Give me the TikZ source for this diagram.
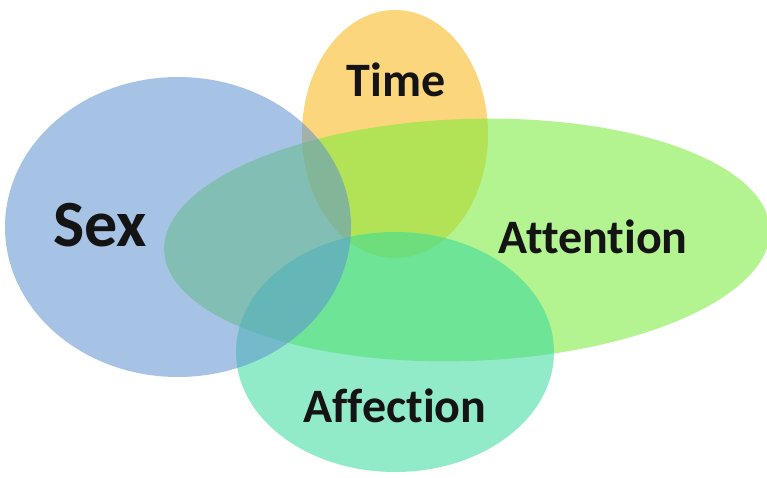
\documentclass[tikz,border=0pt]{standalone}
\usepackage{fontspec}
\setmainfont{Carlito}[Ligatures=NoCommon]

\definecolor{sexblue}{RGB}{93,147,209}
\definecolor{timegold}{RGB}{251,182,18}
\definecolor{attngreen}{RGB}{118,236,55}
\definecolor{affmint}{RGB}{55,218,155}

\tikzset{
  blob/.style={fill opacity=0.55},
  word/.style={anchor=base, text=black!92, font=\bfseries\fontsize{48}{52}\selectfont},
  bigword/.style={word, font=\bfseries\fontsize{66}{70}\selectfont},
}

\begin{document}
\begin{tikzpicture}[x=1pt, y=-1pt]
	%%%%% START %%%%%
	\useasboundingbox (0,0) rectangle (767,478);
	\fill[white] (0,0) rectangle (767,478);
	
	% the four overlapping blobs
	\fill[blob, timegold] (395,134) ellipse [x radius=93, y radius=124];
	\fill[blob, attngreen, rotate around={2:(467,240)}] (467,240) ellipse [x radius=303, y radius=121];
	\fill[blob, affmint] (395,352) ellipse [x radius=159, y radius=120];
	\fill[blob, sexblue] (178,227) ellipse [x radius=173, y radius=150];
	
	% labels
	\node[bigword] (sex) at (100,246) {Sex};
	\node[word] (time) at (396,97) {Time};
	\node[word] (attention) at (593,253) {Attention};
	\node[word] (affection) at (395,422) {Affection};
	
	%%%%% END %%%%%
\end{tikzpicture}
\end{document}
